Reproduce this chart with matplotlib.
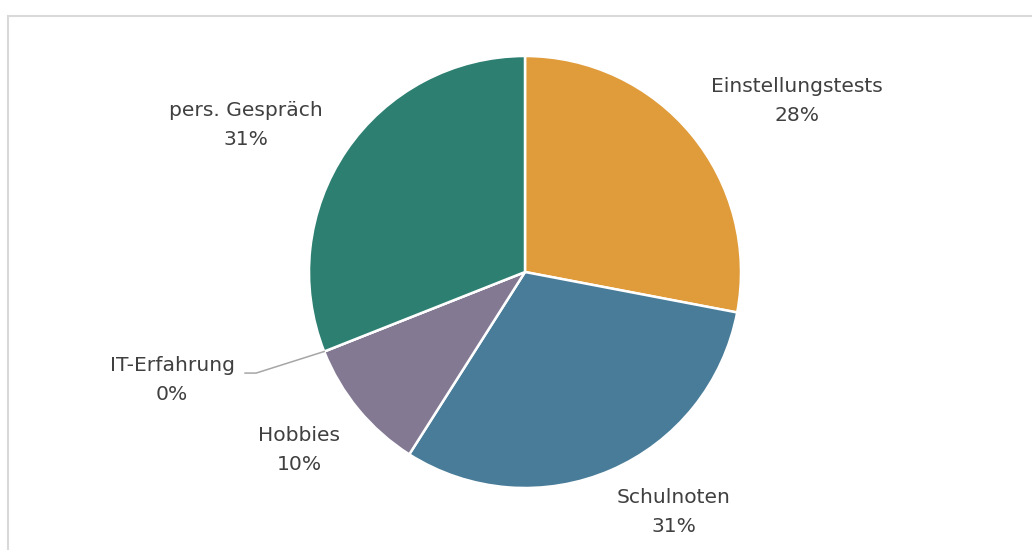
import matplotlib.pyplot as plt
import numpy as np
from matplotlib.patches import Rectangle

categories = ['Einstellungstests', 'Schulnoten', 'Hobbies', 'IT-Erfahrung', 'pers. Gespräch']
shares = [28, 31, 10, 0, 31]
colors = ['#E09C3B', '#487C99', '#837993', '#2D7F72', '#2D7F72']

# label centres in units of the pie radius
label_pos = [(1.259, 0.792), (0.690, -1.111), (-1.046, -0.824), (-1.634, -0.500), (-1.292, 0.681)]

W, H, R = 1032, 550, 216
cx, cy = 525, 272

fig = plt.figure(figsize=(W / 100, H / 100), dpi=100)
ax = fig.add_axes([0, 0, 1, 1])

# light frame around the chart area
fig.patches.append(Rectangle((7.5 / W, -0.1), 2, 1 - 15.5 / H + 0.1,
                             transform=fig.transFigure, fill=False,
                             edgecolor='#d9d9d9', linewidth=1.5))

wedges, _ = ax.pie(shares, colors=colors, startangle=90, counterclock=False,
                   radius=1, center=(0, 0), frame=True,
                   wedgeprops=dict(edgecolor='white', linewidth=1.8))
ax.set_xlim(-cx / R, (W - cx) / R)
ax.set_ylim(-(H - cy) / R, cy / R)
ax.axis('off')

for name, val, (lx, ly) in zip(categories, shares, label_pos):
    ax.text(lx, ly, f'{name}\n{val}%', ha='center', va='center',
            fontsize=14.6, color='#404040', linespacing=1.68,
            family='DejaVu Sans')

# leader line for the empty slice
i = categories.index('IT-Erfahrung')
th = np.deg2rad(wedges[i].theta1)
ax.plot([np.cos(th), -1.245, -1.296], [np.sin(th), -0.468, -0.468],
        color='#a6a6a6', linewidth=1.1)

fig.savefig('out.png', dpi=100, facecolor='white')
